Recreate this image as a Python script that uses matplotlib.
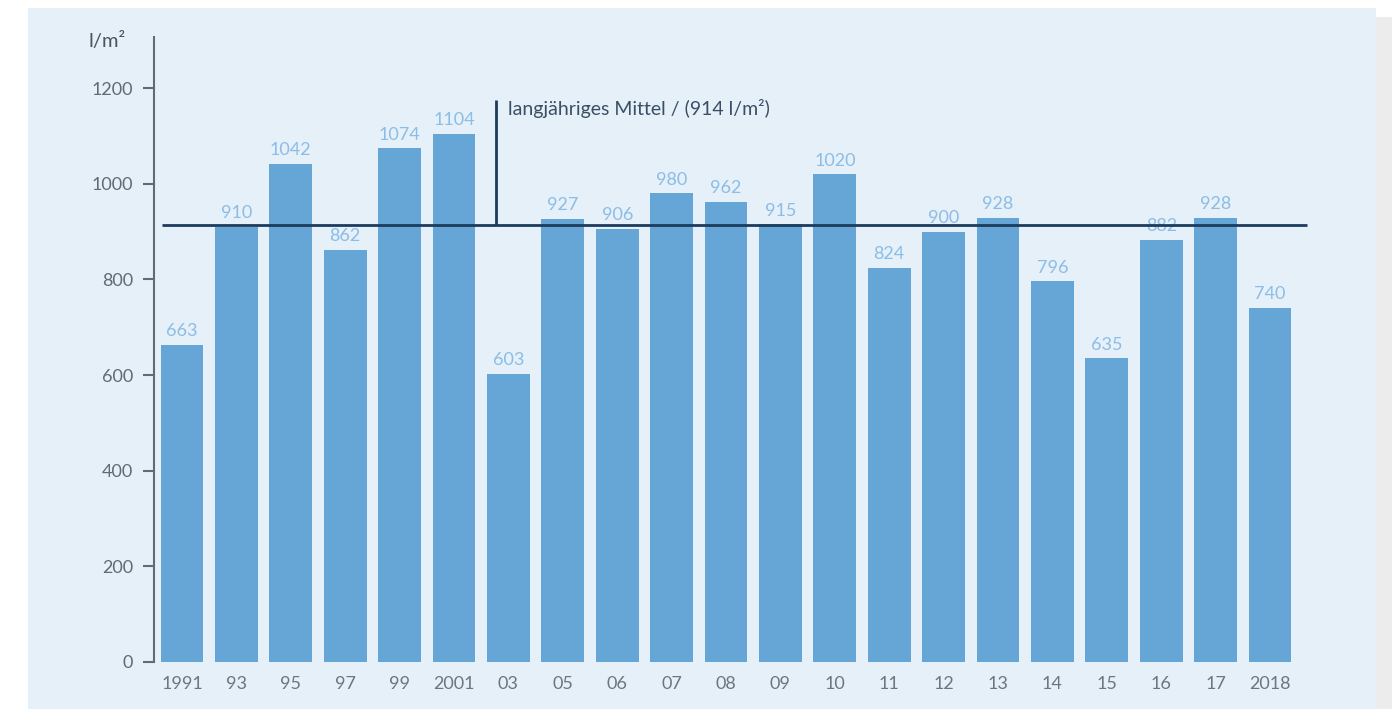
import matplotlib
matplotlib.use("Agg")
import matplotlib.pyplot as plt
from matplotlib.patches import Rectangle

years = ["1991", "93", "95", "97", "99", "2001", "03", "05", "06", "07", "08",
         "09", "10", "11", "12", "13", "14", "15", "16", "17", "2018"]
values = [663, 910, 1042, 862, 1074, 1104, 603, 927, 906, 980, 962,
          915, 1020, 824, 900, 928, 796, 635, 882, 928, 740]
mean_value = 914
yticks = [0, 200, 400, 600, 800, 1000, 1200]
unit_label = "l/m²"
mean_label = "langjähriges Mittel / (914 l/m²)"

plt.rcParams['font.family'] = ['Lato', 'DejaVu Sans']

W, H = 1392, 709
fig = plt.figure(figsize=(W / 100, H / 100), dpi=100, facecolor="white")

def fx(px):
    return px / W

def fy(py):
    return 1 - py / H

# background panel and right shadow
fig.patches.append(Rectangle((fx(1376), 0), fx(W) - fx(1376), fy(17), transform=fig.transFigure,
                             facecolor="#ececec", edgecolor="none", zorder=-10))
fig.patches.append(Rectangle((fx(28), 0), fx(1376) - fx(28), fy(8), transform=fig.transFigure,
                             facecolor="#e5f0f8", edgecolor="none", zorder=-10))

# axes geometry in pixels
ax_left, ax_right = 154, 1312
ax_top, ax_bottom = 37, 662
ax = fig.add_axes([fx(ax_left), fy(ax_bottom), fx(ax_right) - fx(ax_left), fy(ax_top) - fy(ax_bottom)])
ax.patch.set_visible(False)

spacing = 54.4
first_center = 182
x0 = -(first_center - ax_left) / spacing
x1 = (ax_right - first_center) / spacing
ax.set_xlim(x0, x1)
ax.set_ylim(0, 1307)

xs = list(range(len(values)))
ax.bar(xs, values, width=0.79, color="#66a6d6", zorder=2)

for x, v in zip(xs, values):
    ax.text(x, v + 12, str(v), ha="center", va="bottom", fontsize=13, color="#8cbde6", zorder=3)

# mean line
ax.plot([x0 + 8 / spacing, (1307 - first_center) / spacing], [mean_value, mean_value],
        color="#1d3b5c", lw=2, zorder=4, solid_capstyle="butt", clip_on=False)
xa = (496 - first_center) / spacing
ax.plot([xa, xa], [mean_value, 1175], color="#1d3b5c", lw=2, zorder=4, solid_capstyle="butt")
ax.text(xa + 12 / spacing, 1157, mean_label, ha="left", va="center", fontsize=14, color="#3a4f66")

# spines & ticks
for s in ["top", "right", "bottom"]:
    ax.spines[s].set_visible(False)
ax.spines["left"].set_color("#5f6b75")
ax.spines["left"].set_linewidth(1.5)
ax.set_yticks(yticks)
ax.set_yticklabels([str(t) for t in yticks])
ax.tick_params(axis="y", length=8, width=1.5, color="#5f6b75", labelsize=13,
               labelcolor="#5f6b75", pad=7)
ax.set_xticks(xs)
ax.set_xticklabels(years)
ax.tick_params(axis="x", length=0, labelsize=13, labelcolor="#6b7680", pad=10)

fig.text(fx(107), fy(41), unit_label, ha="center", va="center", fontsize=14.5, color="#4a5560")

fig.savefig("out.png", dpi=100, facecolor="white")
